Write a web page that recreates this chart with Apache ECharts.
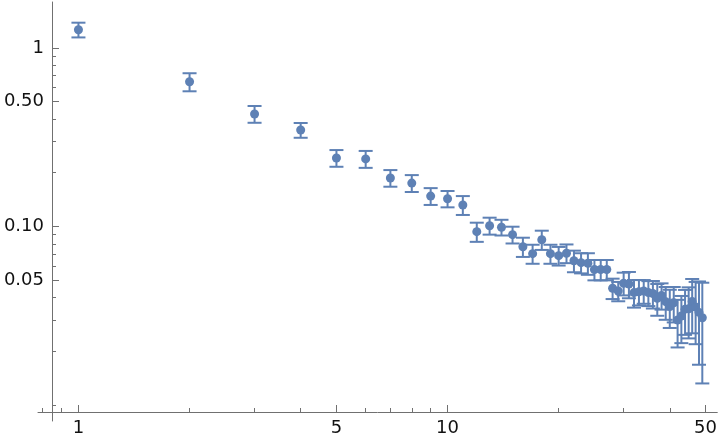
<!DOCTYPE html>
<html>
<head>
<meta charset="utf-8">
<script src="https://cdn.jsdelivr.net/npm/echarts@6/dist/echarts.min.js"></script>
<style>
  html, body { margin: 0; padding: 0; background: #fff; }
  #chart { width: 720px; height: 444px; }
</style>
</head>
<body>
<div id="chart"></div>
<script>
// sample index n
const nValues = [1, 2, 3, 4, 5, 6, 7, 8, 9, 10,
  11, 12, 13, 14, 15, 16, 17, 18, 19, 20,
  21, 22, 23, 24, 25, 26, 27, 28, 29, 30,
  31, 32, 33, 34, 35, 36, 37, 38, 39, 40,
  41, 42, 43, 44, 45, 46, 47, 48, 49]

// mean value at each n
const means = [1.266, 0.647, 0.427, 0.347, 0.242, 0.239, 0.187, 0.175, 0.148, 0.143,
  0.132, 0.0935, 0.101, 0.099, 0.090, 0.077, 0.0704, 0.0843, 0.0704, 0.0686,
  0.0708, 0.0643, 0.0627, 0.0622, 0.0574, 0.0574, 0.0574, 0.0451, 0.0435, 0.0481,
  0.0476, 0.0426, 0.0431, 0.0435, 0.0426, 0.0421, 0.0396, 0.0411, 0.0379, 0.0356,
  0.0374, 0.0299, 0.0315, 0.0344, 0.0346, 0.038, 0.0354, 0.033, 0.0308]

// error (half width of bar)
const errors = [0.12, 0.075, 0.046, 0.033, 0.026, 0.026, 0.020, 0.019, 0.016, 0.015,
  0.016, 0.0115, 0.011, 0.010, 0.0097, 0.0095, 0.0086, 0.0104, 0.0086, 0.0082,
  0.0085, 0.0089, 0.0081, 0.0086, 0.0075, 0.0075, 0.0075, 0.0059, 0.0054, 0.007,
  0.008, 0.0075, 0.007, 0.0066, 0.0068, 0.0074, 0.008, 0.0069, 0.0079, 0.0086,
  0.0084, 0.0089, 0.0093, 0.0097, 0.011, 0.0128, 0.0135, 0.0162, 0.0176]

// tick labels / tick marks
const xMajorTicks = [1, 5, 10, 50]
const xMinorTicks = [0.8, 0.9, 2, 3, 4, 6, 7, 8, 9, 20, 30, 40]
const yMajorTicks = [0.05, 0.1, 0.5, 1]
const yMinorTicks = [0.01, 0.02, 0.03, 0.04, 0.06, 0.07, 0.08, 0.09, 0.2, 0.3, 0.4, 0.6, 0.7, 0.8, 0.9]

const color = '#5E81B5'
const axisColor = '#707070'

const points = nValues.map((n, i) => [n, means[i]])
const bars = nValues.map((n, i) => [n, means[i] - errors[i], means[i] + errors[i]])

const chart = echarts.init(document.getElementById('chart'))

const fmt = v => (v >= 1 ? String(Math.round(v)) : v.toFixed(2))

const xRange = { min: 0.777, max: 53.8 }
const yRange = { min: 0.00813, max: 1.81 }

chart.setOption({
  animation: false,
  grid: { left: 38, right: 2, top: 2, bottom: 23 },
  xAxis: [
    {
      type: 'log',
      logBase: 10,
      ...xRange,
      offset: -9,
      axisLine: { show: true, lineStyle: { color: axisColor, width: 1 } },
      axisTick: { show: true, inside: true, length: 7, customValues: xMajorTicks, lineStyle: { color: axisColor } },
      axisLabel: {
        show: true,
        customValues: xMajorTicks,
        formatter: fmt,
        margin: 7,
        color: '#111',
        fontFamily: 'DejaVu Sans',
        fontSize: 18
      },
      splitLine: { show: false },
      minorTick: { show: false }
    },
    {
      type: 'log',
      logBase: 10,
      ...xRange,
      offset: -9,
      position: 'bottom',
      axisLine: { show: false },
      axisTick: { show: true, inside: true, length: 4, customValues: xMinorTicks, lineStyle: { color: axisColor } },
      axisLabel: { show: false },
      splitLine: { show: false }
    }
  ],
  yAxis: [
    {
      type: 'log',
      logBase: 10,
      ...yRange,
      offset: -14,
      axisLine: { show: true, lineStyle: { color: axisColor, width: 1 } },
      axisTick: { show: true, inside: true, length: 7, customValues: yMajorTicks, lineStyle: { color: axisColor } },
      axisLabel: {
        show: true,
        customValues: yMajorTicks,
        formatter: fmt,
        margin: 8,
        color: '#111',
        fontFamily: 'DejaVu Sans',
        fontSize: 18
      },
      splitLine: { show: false }
    },
    {
      type: 'log',
      logBase: 10,
      ...yRange,
      offset: -14,
      position: 'left',
      axisLine: { show: false },
      axisTick: { show: true, inside: true, length: 4, customValues: yMinorTicks, lineStyle: { color: axisColor } },
      axisLabel: { show: false },
      splitLine: { show: false }
    }
  ],
  series: [
    {
      type: 'custom',
      name: 'errors',
      xAxisIndex: 0,
      yAxisIndex: 0,
      data: bars,
      z: 2,
      renderItem(params, api) {
        const lo = api.coord([api.value(0), api.value(1)])
        const hi = api.coord([api.value(0), api.value(2)])
        const cap = 7
        const style = { stroke: color, lineWidth: 2 }
        return {
          type: 'group',
          children: [
            { type: 'line', shape: { x1: lo[0], y1: lo[1], x2: hi[0], y2: hi[1] }, style },
            { type: 'line', shape: { x1: lo[0] - cap, y1: lo[1], x2: lo[0] + cap, y2: lo[1] }, style },
            { type: 'line', shape: { x1: hi[0] - cap, y1: hi[1], x2: hi[0] + cap, y2: hi[1] }, style }
          ]
        }
      }
    },
    {
      type: 'scatter',
      name: 'means',
      xAxisIndex: 0,
      yAxisIndex: 0,
      data: points,
      symbol: 'circle',
      symbolSize: 9,
      itemStyle: { color: color, opacity: 1 },
      z: 3
    }
  ]
})
</script>
</body>
</html>
